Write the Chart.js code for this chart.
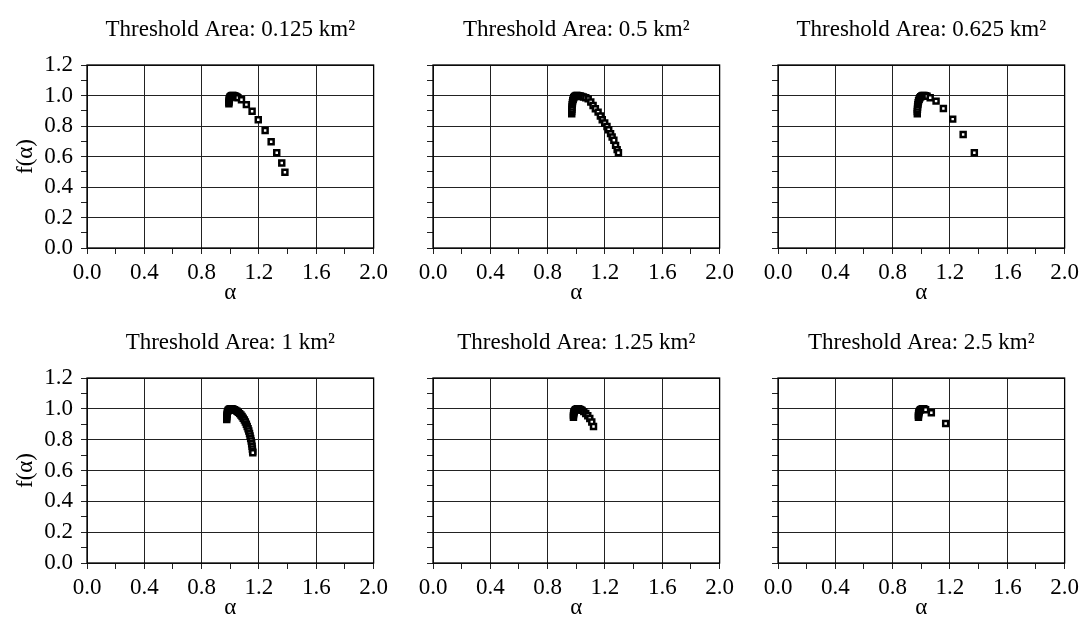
<!DOCTYPE html>
<html>
<head>
<meta charset="UTF-8">
<title>f(α) spectra</title>
<script src="https://cdn.jsdelivr.net/npm/chart.js"></script>
<style>
  body { margin: 0; background: #fff; width: 1085px; height: 621px; overflow: hidden; position: relative; }
  canvas { position: absolute; }
</style>
</head>
<body>
<canvas id="c1"></canvas>
<canvas id="c2"></canvas>
<canvas id="c3"></canvas>
<canvas id="c4"></canvas>
<canvas id="c5"></canvas>
<canvas id="c6"></canvas>
<script>
// panel titles
const titles = [
  'Threshold Area: 0.125 km²', 'Threshold Area: 0.5 km²', 'Threshold Area: 0.625 km²',
  'Threshold Area: 1 km²', 'Threshold Area: 1.25 km²', 'Threshold Area: 2.5 km²'
];

// alpha / f(alpha) values
const a1 = [0.990,0.990,0.991,0.992,0.994,0.997,1.000,1.004,1.009,1.014,1.020,1.026,1.032,1.039,1.046,1.053,1.078,1.112,1.152,1.195,1.243,1.285,1.324,1.359,1.381];
const f1 = [0.945,0.955,0.964,0.972,0.980,0.987,0.992,0.996,0.998,1.000,1.000,0.999,0.997,0.994,0.990,0.985,0.972,0.940,0.897,0.841,0.770,0.697,0.624,0.557,0.497];

const a2 = [0.968,0.968,0.969,0.970,0.971,0.973,0.975,0.978,0.982,0.987,0.993,1.000,1.008,1.017,1.027,1.038,1.050,1.066,1.083,1.101,1.117,1.133,1.152,1.168,1.181,1.198,1.214,1.226,1.239,1.250,1.262,1.274,1.285,1.294];
const f2 = [0.880,0.895,0.910,0.925,0.940,0.953,0.965,0.976,0.985,0.992,0.997,1.000,1.000,0.999,0.997,0.994,0.990,0.985,0.978,0.957,0.935,0.913,0.891,0.865,0.841,0.820,0.797,0.776,0.750,0.728,0.706,0.673,0.645,0.624];

const a3 = [0.972,0.972,0.973,0.974,0.976,0.978,0.981,0.985,0.990,0.996,1.003,1.011,1.020,1.030,1.040,1.062,1.103,1.154,1.219,1.292,1.370];
const f3 = [0.880,0.895,0.910,0.925,0.940,0.953,0.965,0.976,0.985,0.992,0.997,1.000,1.000,0.998,0.995,0.985,0.963,0.915,0.845,0.744,0.625];

const a4 = [0.975,0.975,0.976,0.977,0.979,0.982,0.986,0.991,0.997,1.004,1.012,1.020,1.029,1.038,1.047,1.056,1.065,1.074,1.082,1.090,1.098,1.105,1.112,1.118,1.124,1.129,1.134,1.138,1.142,1.146,1.149,1.152,1.154,1.156,1.157];
const f4 = [0.930,0.942,0.954,0.965,0.975,0.984,0.991,0.996,0.999,1.000,1.000,0.998,0.995,0.990,0.984,0.977,0.969,0.960,0.950,0.939,0.927,0.914,0.900,0.886,0.871,0.856,0.840,0.824,0.808,0.791,0.774,0.757,0.740,0.724,0.715];

const a5 = [0.980,0.980,0.981,0.983,0.986,0.990,0.995,1.001,1.008,1.015,1.023,1.031,1.040,1.052,1.066,1.080,1.094,1.108,1.120];
const f5 = [0.945,0.956,0.966,0.975,0.983,0.990,0.995,0.998,1.000,1.000,0.998,0.995,0.990,0.982,0.970,0.955,0.937,0.915,0.885];

const a6 = [0.980,0.980,0.981,0.983,0.986,0.990,0.995,1.001,1.008,1.015,1.022,1.030,1.070,1.170];
const f6 = [0.945,0.956,0.966,0.975,0.983,0.990,0.995,0.998,1.000,1.000,0.998,0.994,0.975,0.905];

// axis ranges
const xMin = 0, xMax = 2, xStep = 0.2;   // labels/grid every 0.4
const yMin = 0, yMax = 1.2, yStep = 0.1; // labels/grid every 0.2

const serif = "'Liberation Serif', 'Times New Roman', serif";
const font = { family: serif, size: 23, weight: 'normal' };

// box round the plot area
const frame = {
  id: 'frame',
  afterDraw(chart) {
    const { ctx, chartArea: a } = chart;
    ctx.save();
    ctx.strokeStyle = '#000';
    ctx.lineWidth = 1.3;
    ctx.strokeRect(a.left, a.top, a.right - a.left, a.bottom - a.top);
    ctx.restore();
  }
};

// title centred over the plot area, not the whole canvas
function titlePlugin(text) {
  return {
    id: 'panelTitle',
    afterDraw(chart) {
      const { ctx, chartArea: a } = chart;
      ctx.save();
      ctx.fillStyle = '#000';
      ctx.font = '23px ' + serif;
      ctx.textAlign = 'center';
      ctx.textBaseline = 'alphabetic';
      ctx.fillText(text, (a.left + a.right) / 2, a.top - 29);
      ctx.restore();
    }
  };
}

function makePanel(id, pos, title, xs, ys, firstCol) {
  const cv = document.getElementById(id);
  cv.style.left = pos.left + 'px';
  cv.style.top = pos.top + 'px';
  cv.width = pos.w;
  cv.height = pos.h;
  new Chart(cv, {
    type: 'scatter',
    data: {
      datasets: [{
        data: xs.map((x, i) => ({ x: x, y: ys[i] })),
        pointStyle: 'rect',
        pointRadius: 3.5,
        pointBorderWidth: 2.5,
        borderColor: '#000',
        backgroundColor: '#fff'
      }]
    },
    options: {
      responsive: false,
      animation: false,
      devicePixelRatio: 1,
      layout: { padding: { left: 0, right: 16, top: 65, bottom: 0 } },
      plugins: {
        legend: { display: false },
        tooltip: { enabled: false },
        title: { display: false }
      },
      scales: {
        x: {
          type: 'linear', min: xMin, max: xMax,
          ticks: {
            stepSize: xStep, autoSkip: false, maxRotation: 0, color: '#000', font: font, padding: 5,
            callback: v => Math.round(v * 10) % 4 === 0 ? v.toFixed(1) : ''
          },
          grid: {
            color: c => Math.round(c.tick.value * 10) % 4 === 0 ? '#222' : 'rgba(0,0,0,0)',
            tickColor: '#222', tickLength: 6, lineWidth: 1
          },
          border: { display: false },
          title: { display: true, text: 'α', color: '#000', font: font, padding: { top: 0, bottom: 1 } },
          afterFit: s => { s.height = 60; }
        },
        y: {
          type: 'linear', min: yMin, max: yMax,
          ticks: {
            stepSize: yStep, autoSkip: false, color: '#000', font: font, padding: 8,
            callback: v => (firstCol && Math.round(v * 10) % 2 === 0) ? v.toFixed(1) : ''
          },
          grid: {
            color: c => Math.round(c.tick.value * 10) % 2 === 0 ? '#222' : 'rgba(0,0,0,0)',
            tickColor: '#222', tickLength: 6, lineWidth: 1
          },
          border: { display: false },
          title: { display: firstCol, text: 'f(α)', color: '#000', font: font, padding: { top: 12, bottom: 0 } },
          afterFit: s => { s.width = firstCol ? 87 : 20; }
        }
      }
    },
    plugins: [frame, titlePlugin(title)]
  });
}

const topRow = { top: 0, h: 308 };
const botRow = { top: 313, h: 310 };
const cols = [ { left: 0, w: 393 }, { left: 413, w: 326 }, { left: 758, w: 326 } ];

const xsAll = [a1, a2, a3, a4, a5, a6];
const ysAll = [f1, f2, f3, f4, f5, f6];
for (let i = 0; i < 6; i++) {
  const row = i < 3 ? topRow : botRow;
  const col = cols[i % 3];
  makePanel('c' + (i + 1), { left: col.left, top: row.top, w: col.w, h: row.h }, titles[i], xsAll[i], ysAll[i], i % 3 === 0);
}
</script>
</body>
</html>
